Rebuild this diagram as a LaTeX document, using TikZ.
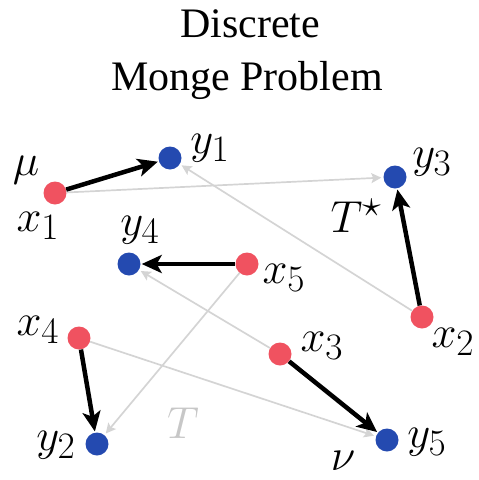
\documentclass[tikz,border=0pt]{standalone}
\usepackage{fix-cm}
\usepackage{graphicx}
\usepackage[no-math]{fontspec}
\newfontfamily\titlefont{Liberation Serif}
\usetikzlibrary{arrows.meta}
\newcommand\mlab[1]{\scalebox{1.8}{\Huge$#1$}}
\definecolor{ptred}{RGB}{240,82,96}
\definecolor{ptblue}{RGB}{36,74,176}
\definecolor{lgrey}{RGB}{212,212,212}
\tikzset{
  src/.style={circle,fill=ptred,inner sep=0pt,minimum size=23pt},
  tgt/.style={circle,fill=ptblue,inner sep=0pt,minimum size=23pt},
  lab/.style={inner sep=0pt},
  ttl/.style={inner sep=0pt,anchor=base,font=\titlefont\fontsize{42}{48}\selectfont},
  opt/.style={line width=4.5pt,black,-{Stealth[length=20pt,width=18pt,inset=5pt]},shorten >=1pt},
  alt/.style={line width=1.7pt,lgrey,-{Stealth[length=10pt,width=10pt,inset=2pt]},shorten >=2pt},
}
\begin{document}
\begin{tikzpicture}[x=1pt,y=-1pt]
\useasboundingbox (0,0) rectangle (479,480);
\node[ttl] (t1) at (250,37) {Discrete};
\node[ttl] (t2) at (247,90) {Monge Problem};
% points
\node[src] (x1) at (55,193) {};
\node[src] (x2) at (422,317) {};
\node[src] (x3) at (280,354) {};
\node[src] (x4) at (79,338) {};
\node[src] (x5) at (247,264) {};
\node[tgt] (y1) at (170,158) {};
\node[tgt] (y2) at (97,444) {};
\node[tgt] (y3) at (395,177) {};
\node[tgt] (y4) at (129,264) {};
\node[tgt] (y5) at (387,440) {};
% grey map T
\draw[alt] (x1) -- (y3);
\draw[alt] (x2) -- (y1);
\draw[alt] (x3) -- (y4);
\draw[alt] (x4) -- (y5);
\draw[alt] (x5) -- (y2);
% optimal map
\draw[opt] (x1) -- (y1);
\draw[opt] (x2) -- (y3);
\draw[opt] (x3) -- (y5);
\draw[opt] (x4) -- (y2);
\draw[opt] (x5) -- (y4);
% labels
\node[lab] (lmu) at (26,170) {\mlab{\mu}};
\node[lab] (lnu) at (343,461) {\mlab{\nu}};
\node[lab] (lx1) at (38,226) {\mlab{x_1}};
\node[lab] (lx2) at (453,342) {\mlab{x_2}};
\node[lab] (lx3) at (322,346) {\mlab{x_3}};
\node[lab] (lx4) at (38,330) {\mlab{x_4}};
\node[lab] (lx5) at (284,278) {\mlab{x_5}};
\node[lab] (ly1) at (210,148) {\mlab{y_1}};
\node[lab] (ly2) at (56,445) {\mlab{y_2}};
\node[lab] (ly3) at (432,162) {\mlab{y_3}};
\node[lab] (ly4) at (140,230) {\mlab{y_4}};
\node[lab] (ly5) at (427,442) {\mlab{y_5}};
\node[lab] (lts) at (356,216) {\mlab{T^\star}};
\node[lab,text=lgrey!85!gray] (lt) at (183,423) {\mlab{T}};
\end{tikzpicture}
\end{document}
